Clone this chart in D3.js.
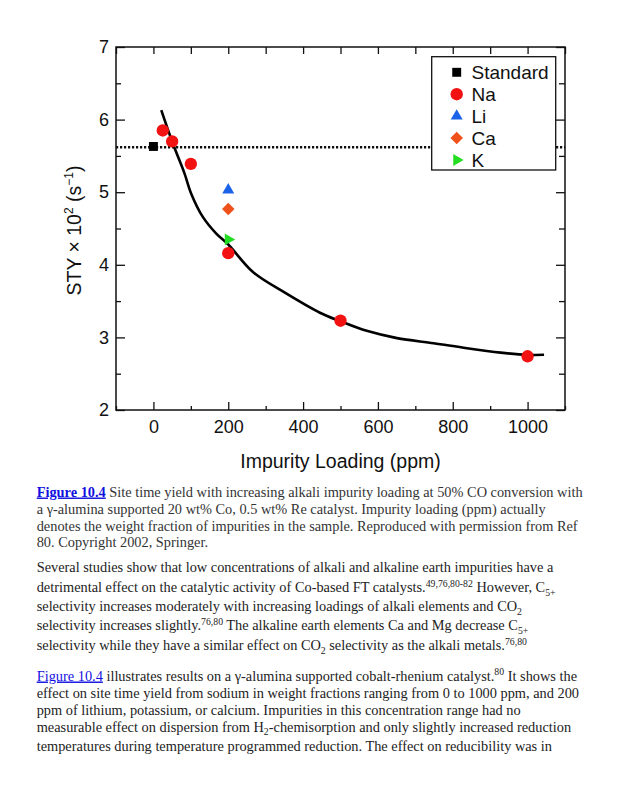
<!DOCTYPE html>
<html><head><meta charset="utf-8">
<script src="https://cdn.jsdelivr.net/npm/d3@7"></script>
<style>body{margin:0;background:#fff} svg{display:block}</style>
</head><body>
<svg id="c" width="617" height="800"></svg>
<script>
// ---------- data ----------
const naLoading = [25, 50, 100, 200, 500, 1000];
const naSTY = [5.85, 5.70, 5.39, 4.16, 3.23, 2.74];
const standardLoading = [0];
const standardSTY = [5.63];
const standardLevel = 5.62;
const otherNames = ["Li", "Ca", "K"];
const otherLoading = [200, 200, 200];
const otherSTY = [5.03, 4.77, 4.35];
const fitLoading = [21, 52, 83, 101, 132, 168, 200, 266, 347, 445, 501, 570, 651, 749, 838, 928, 1000, 1044];
const fitSTY = [6.13, 5.67, 5.26, 4.98, 4.66, 4.43, 4.28, 3.90, 3.63, 3.34, 3.22, 3.09, 2.99, 2.92, 2.85, 2.79, 2.76, 2.76];
const xTickValues = [0, 200, 400, 600, 800, 1000];
const xMinorValues = [-100, 100, 300, 500, 700, 900, 1100];
const yTickValues = [2, 3, 4, 5, 6, 7];
const yMinorValues = [2.5, 3.5, 4.5, 5.5, 6.5];
const legendLabels = ["Standard", "Na", "Li", "Ca", "K"];

// ---------- setup ----------
const svg = d3.select("#c");
const L = 116, R = 565, T = 47, B = 410;
const x = d3.scaleLinear().domain([-100, 1100]).range([L, R]);
const y = d3.scaleLinear().domain([2, 7]).range([B, T]);
const sans = "'Liberation Sans', Arial, Helvetica, sans-serif";
const serif = "'Liberation Serif', 'Times New Roman', serif";

const colors = {Standard: "#000", Na: "#f21212", Li: "#1a62e8", Ca: "#f0501a", K: "#22dd22"};
function sym(name) {
  if (name === "Standard") return {p: d3.symbol(d3.symbolSquare, 80)(), r: 0};
  if (name === "Na") return {p: d3.symbol(d3.symbolCircle, 120)(), r: 0};
  if (name === "Li") return {p: d3.symbol(d3.symbolTriangle, 62)(), r: 0};
  if (name === "Ca") return {p: d3.symbol(d3.symbolSquare, 78)(), r: 45};
  if (name === "K") return {p: d3.symbol(d3.symbolTriangle, 62)(), r: 90};
}

// axes
function styleAxis(g) {
  g.select(".domain").remove();
  g.selectAll("line").attr("stroke", "#111").attr("stroke-width", 1.3);
  g.selectAll("text").attr("font-family", sans).attr("font-size", 18).attr("fill", "#111");
}
svg.append("g").attr("transform", `translate(0,${B})`)
  .call(d3.axisBottom(x).tickValues(xTickValues).tickSize(-8).tickPadding(10).tickFormat(d3.format("d"))).call(styleAxis);
svg.append("g").attr("transform", `translate(0,${B})`)
  .call(d3.axisBottom(x).tickValues(xMinorValues).tickSize(-4).tickFormat("")).call(styleAxis);
svg.append("g").attr("transform", `translate(0,${T})`)
  .call(d3.axisTop(x).tickValues(xTickValues.concat(xMinorValues)).tickSize(-7).tickFormat("")).call(styleAxis);
svg.append("g").attr("transform", `translate(${L},0)`)
  .call(d3.axisLeft(y).tickValues(yTickValues).tickSize(-9).tickPadding(7).tickFormat(d3.format("d"))).call(styleAxis);
svg.append("g").attr("transform", `translate(${L},0)`)
  .call(d3.axisLeft(y).tickValues(yMinorValues).tickSize(-5).tickFormat("")).call(styleAxis);
svg.append("g").attr("transform", `translate(${R},0)`)
  .call(d3.axisRight(y).tickValues(yTickValues).tickSize(-9).tickFormat("")).call(styleAxis);
svg.append("g").attr("transform", `translate(${R},0)`)
  .call(d3.axisRight(y).tickValues(yMinorValues).tickSize(-6).tickFormat("")).call(styleAxis);

svg.append("rect").attr("x", L).attr("y", T).attr("width", R - L).attr("height", B - T)
  .attr("fill", "none").attr("stroke", "#111").attr("stroke-width", 1.5);

// dotted standard level
svg.append("line").attr("x1", L).attr("x2", R).attr("y1", y(standardLevel)).attr("y2", y(standardLevel))
  .attr("stroke", "#111").attr("stroke-width", 2.6).attr("stroke-dasharray", "2.2,1.8");

// fit curve
const fit = fitLoading.map((d, i) => [d, fitSTY[i]]);
svg.append("path").datum(fit)
  .attr("d", d3.line().x(d => x(d[0])).y(d => y(d[1])).curve(d3.curveCatmullRom.alpha(0.5)))
  .attr("fill", "none").attr("stroke", "#000").attr("stroke-width", 2.6);

// markers
function marker(g, name, cx, cy) {
  const s = sym(name);
  g.append("path").attr("d", s.p).attr("fill", colors[name])
    .attr("transform", `translate(${cx},${cy}) rotate(${s.r})`);
}
const mg = svg.append("g");
standardLoading.forEach((d, i) => marker(mg, "Standard", x(d), y(standardSTY[i])));
otherNames.forEach((n, i) => marker(mg, n, x(otherLoading[i]), y(otherSTY[i])));
naLoading.forEach((d, i) => marker(mg, "Na", x(d), y(naSTY[i])));

// legend
const lg = svg.append("g");
lg.append("rect").attr("x", 431.7).attr("y", 56.7).attr("width", 124).attr("height", 113.3)
  .attr("fill", "#fff").attr("stroke", "#111").attr("stroke-width", 1.3);
legendLabels.forEach((n, i) => {
  const cy = 72.3 + i * 21.9;
  marker(lg, n, 456.7, cy);
  lg.append("text").attr("x", 471.5).attr("y", cy + 7).text(n)
    .attr("font-family", sans).attr("font-size", 19).attr("fill", "#111");
});

// axis titles
svg.append("text").attr("x", (L + R) / 2).attr("y", 468).attr("text-anchor", "middle")
  .attr("font-family", sans).attr("font-size", 19.5).attr("fill", "#111").text("Impurity Loading (ppm)");
const yl = svg.append("text").attr("transform", `translate(81,${(T + B) / 2 + 2}) rotate(-90)`)
  .attr("text-anchor", "middle").attr("font-family", sans).attr("font-size", 19.5).attr("fill", "#111");
yl.append("tspan").text("STY × 10");
yl.append("tspan").attr("dy", -8).attr("font-size", 12).text("2");
yl.append("tspan").attr("dy", 8).text(" (s");
yl.append("tspan").attr("dy", -8).attr("font-size", 12).text("−1");
yl.append("tspan").attr("dy", 8).text(")");

// ---------- text ----------
const captionLines = [
  [["link-b", "Figure 10.4"], ["n", " Site time yield with increasing alkali impurity loading at 50% CO conversion with"]],
  [["n", "a γ-alumina supported 20 wt% Co, 0.5 wt% Re catalyst. Impurity loading (ppm) actually"]],
  [["n", "denotes the weight fraction of impurities in the sample. Reproduced with permission from Ref"]],
  [["n", "80. Copyright 2002, Springer."]]
];
const captionY = [496.5, 513.5, 530.5, 547];
const para1 = [
  [["n", "Several studies show that low concentrations of alkali and alkaline earth impurities have a"]],
  [["n", "detrimental effect on the catalytic activity of Co-based FT catalysts."], ["sup", "49,76,80-82"], ["n", " However, C"], ["sub", "5+"]],
  [["n", "selectivity increases moderately with increasing loadings of alkali elements and CO"], ["sub", "2"]],
  [["n", "selectivity increases slightly."], ["sup", "76,80"], ["n", " The alkaline earth elements Ca and Mg decrease C"], ["sub", "5+"]],
  [["n", "selectivity while they have a similar effect on CO"], ["sub", "2"], ["n", " selectivity as the alkali metals."], ["sup", "76,80"]]
];
const para1Y = [572, 592, 611, 630, 650];
const para2 = [
  [["link", "Figure 10.4"], ["n", " illustrates results on a γ-alumina supported cobalt-rhenium catalyst."], ["sup", "80"], ["n", " It shows the"]],
  [["n", "effect on site time yield from sodium in weight fractions ranging from 0 to 1000 ppm, and 200"]],
  [["n", "ppm of lithium, potassium, or calcium. Impurities in this concentration range had no"]],
  [["n", "measurable effect on dispersion from H"], ["sub", "2"], ["n", "-chemisorption and only slightly increased reduction"]],
  [["n", "temperatures during temperature programmed reduction. The effect on reducibility was in"]]
];
const para2Y = [680.5, 697.5, 714.5, 731.5, 751];

function drawLines(lines, ys, size, color) {
  lines.forEach((segs, i) => {
    const t = svg.append("text").attr("x", 36.7).attr("y", ys[i])
      .attr("font-family", serif).attr("font-size", size).attr("fill", color);
    let shift = 0;
    segs.forEach(([k, s]) => {
      const ts = t.append("tspan").text(s);
      let target = 0;
      if (k === "sup") { target = -5.5; ts.attr("font-size", size * 0.68); }
      if (k === "sub") { target = 3.5; ts.attr("font-size", size * 0.68); }
      if (k === "link" || k === "link-b") {
        ts.attr("fill", "#1010e0").style("text-decoration", "underline");
        if (k === "link-b") ts.attr("font-weight", "bold");
      }
      if (target !== shift) { ts.attr("dy", target - shift); shift = target; }
    });
  });
}
drawLines(captionLines, captionY, 14.35, "#333");
drawLines(para1, para1Y, 14.35, "#222");
drawLines(para2, para2Y, 14.35, "#222");
</script>
</body></html>
